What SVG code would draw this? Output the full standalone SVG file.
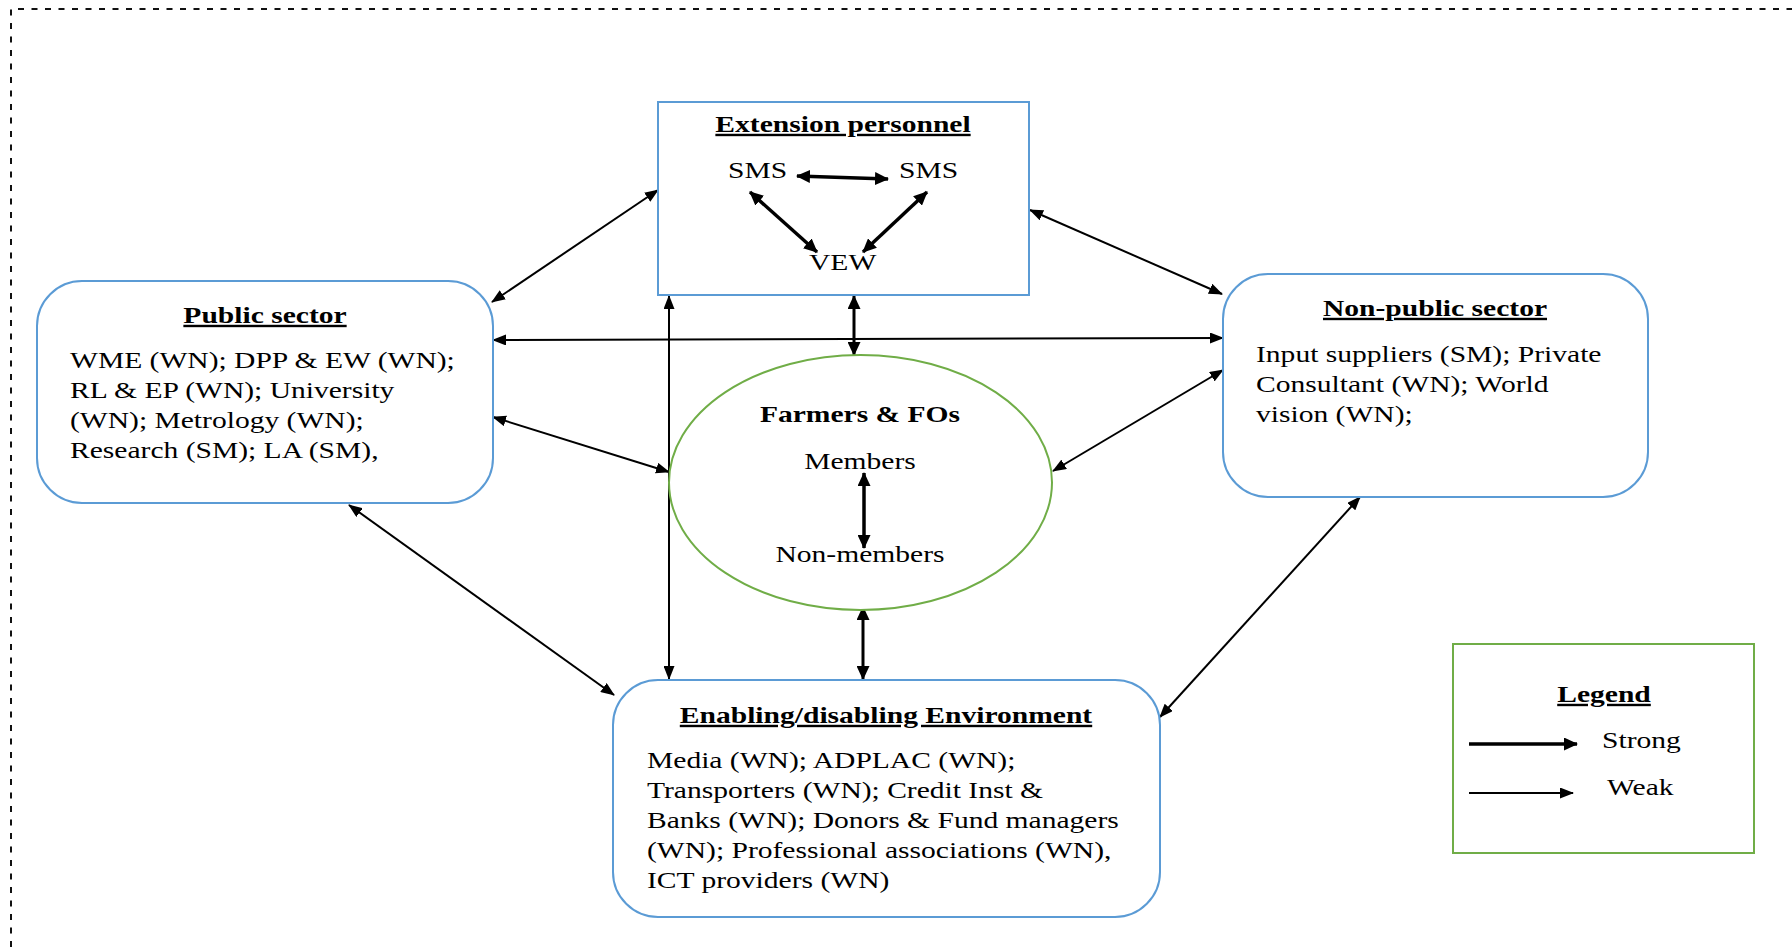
<svg xmlns="http://www.w3.org/2000/svg" width="1792" height="947" viewBox="0 0 1792 947">
<defs>
<style>
.box{fill:#fff;stroke:#5b9bd5;stroke-width:2}
.grn{fill:#fff;stroke:#70ad47;stroke-width:2}
.t{font-family:"Liberation Serif","Times New Roman",serif;font-size:24px;fill:#000}
.b{font-weight:bold;text-decoration:underline}
.mid{text-anchor:middle}
.w{stroke:#000;stroke-width:2;fill:none;marker-start:url(#hw);marker-end:url(#hw)}
.s{stroke:#000;stroke-width:3.5;fill:none;marker-start:url(#hs);marker-end:url(#hs)}
</style>
<marker id="hw" viewBox="0 0 14 11" refX="13" refY="5.5" markerWidth="14" markerHeight="11" markerUnits="userSpaceOnUse" orient="auto-start-reverse"><path d="M0,0 L14,5.5 L0,11 Z" fill="#000"/></marker>
<marker id="hs" viewBox="0 0 14 13" refX="13" refY="6.5" markerWidth="14" markerHeight="13" markerUnits="userSpaceOnUse" orient="auto-start-reverse"><path d="M0,0 L14,6.5 L0,13 Z" fill="#000"/></marker>
</defs>
<rect width="1792" height="947" fill="#fff"/>
<path d="M11,947 L11,9 L1792,9" fill="none" stroke="#111" stroke-width="2" stroke-dasharray="6 7.5"/>

<g id="connectors">
<line class="w" x1="492" y1="302" x2="658" y2="190"/>
<line class="w" x1="1030" y1="210" x2="1222" y2="294"/>
<line class="w" x1="493" y1="340" x2="1223" y2="338"/>
<line class="w" x1="493" y1="417" x2="669" y2="472"/>
<line class="w" x1="669" y1="296" x2="669" y2="679"/>
<line class="s" x1="854" y1="296" x2="854" y2="355" style="stroke-width:3"/>
<line class="s" x1="863" y1="607" x2="863" y2="679" style="stroke-width:3"/>
<line class="w" x1="1223" y1="370" x2="1053" y2="471"/>
<line class="w" x1="349" y1="505" x2="614" y2="695"/>
<line class="w" x1="1360" y1="497" x2="1160" y2="717"/>
</g>

<g id="extension-personnel">
<rect class="box" x="658" y="102" width="371" height="193"/>
<text class="t b mid" transform="translate(843,132) scale(1.232,1)">Extension personnel</text>
<text class="t" transform="translate(728,178) scale(1.232,1)">SMS</text>
<text class="t" transform="translate(899,178) scale(1.232,1)">SMS</text>
<text class="t" transform="translate(809,270) scale(1.232,1)">VEW</text>
<line class="s" x1="797" y1="176" x2="888" y2="179"/>
<line class="s" x1="750" y1="192" x2="817" y2="252"/>
<line class="s" x1="927" y1="192" x2="863" y2="252"/>
</g>

<g id="public-sector">
<rect class="box" x="37" y="281" width="456" height="222" rx="45"/>
<text class="t b mid" transform="translate(265,323) scale(1.232,1)">Public sector</text>
<text class="t" transform="translate(70,368) scale(1.232,1)"><tspan x="0" y="0">WME (WN); DPP &amp; EW (WN);</tspan><tspan x="0" y="30">RL &amp; EP (WN); University</tspan><tspan x="0" y="60">(WN); Metrology (WN);</tspan><tspan x="0" y="90">Research (SM); LA (SM),</tspan></text>
</g>

<g id="non-public-sector">
<rect class="box" x="1223" y="274" width="425" height="223" rx="45"/>
<text class="t b mid" transform="translate(1435,316) scale(1.232,1)">Non-public sector</text>
<text class="t" transform="translate(1256,362) scale(1.232,1)"><tspan x="0" y="0">Input suppliers (SM); Private</tspan><tspan x="0" y="30">Consultant (WN); World</tspan><tspan x="0" y="60">vision (WN);</tspan></text>
</g>

<g id="farmers">
<ellipse class="grn" cx="860.5" cy="482.5" rx="191.5" ry="127.5"/>
<text class="t mid" style="font-weight:bold" transform="translate(860,422) scale(1.232,1)">Farmers &amp; FOs</text>
<text class="t mid" transform="translate(860,469) scale(1.232,1)">Members</text>
<text class="t mid" transform="translate(860,562) scale(1.232,1)">Non-members</text>
<line class="s" x1="864" y1="473" x2="864" y2="548"/>
</g>

<g id="enabling-environment">
<rect class="box" x="613" y="680" width="547" height="237" rx="45"/>
<text class="t b mid" transform="translate(886,723) scale(1.232,1)">Enabling/disabling Environment</text>
<text class="t" transform="translate(647,768) scale(1.232,1)"><tspan x="0" y="0">Media (WN); ADPLAC (WN);</tspan><tspan x="0" y="30">Transporters (WN); Credit Inst &amp;</tspan><tspan x="0" y="60">Banks (WN); Donors &amp; Fund managers</tspan><tspan x="0" y="90">(WN); Professional associations (WN),</tspan><tspan x="0" y="120">ICT providers (WN)</tspan></text>
</g>

<g id="legend">
<rect class="grn" x="1453" y="644" width="301" height="209"/>
<text class="t b mid" transform="translate(1604,702) scale(1.232,1)">Legend</text>
<line x1="1469" y1="744" x2="1577" y2="744" stroke="#000" stroke-width="3.5" marker-end="url(#hs)"/>
<text class="t" transform="translate(1602,748) scale(1.232,1)">Strong</text>
<line x1="1469" y1="793" x2="1573" y2="793" stroke="#000" stroke-width="2" marker-end="url(#hw)"/>
<text class="t" transform="translate(1607,795) scale(1.232,1)">Weak</text>
</g>
</svg>
